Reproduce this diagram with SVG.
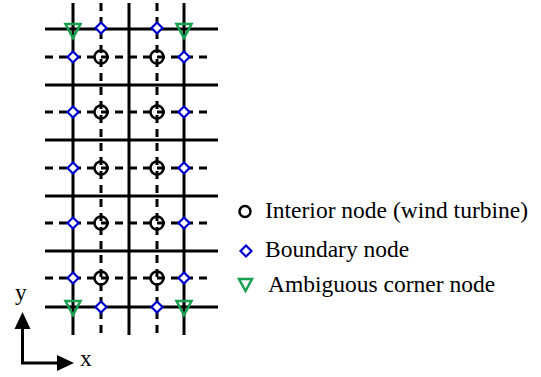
<svg xmlns="http://www.w3.org/2000/svg" width="541" height="377" viewBox="0 0 541 377">
<style>
.g{stroke:#000;stroke-width:3;fill:none}
.d{stroke:#000;stroke-width:3;fill:none;stroke-dasharray:8 6}
.c{stroke:#000;stroke-width:2.5;fill:none}
.b{stroke:#0000cc;stroke-width:2.2;fill:#fff}
.t{stroke:#17a050;stroke-width:2.5;fill:none}
.h{fill:#000;stroke:none}
</style>
<defs>
<path id="dia" d="M0,-5.5 L5.5,0 L0,5.5 L-5.5,0 Z"/>
<path id="tri" d="M-7.5,0 L7.5,0 L0,14 Z"/>
</defs>
<rect width="541" height="377" fill="#fff"/>
<g id="connectors">
<g id="grid-solid">
<line class="g" x1="45" y1="29" x2="218" y2="29"/>
<line class="g" x1="45" y1="85" x2="218" y2="85"/>
<line class="g" x1="45" y1="140" x2="218" y2="140"/>
<line class="g" x1="45" y1="196" x2="218" y2="196"/>
<line class="g" x1="45" y1="251" x2="218" y2="251"/>
<line class="g" x1="45" y1="307" x2="218" y2="307"/>
<line class="g" x1="73" y1="3" x2="73" y2="335"/>
<line class="g" x1="129" y1="3" x2="129" y2="335"/>
<line class="g" x1="184" y1="3" x2="184" y2="335"/>
</g>
<g id="grid-dashed">
<line class="d" x1="45" y1="57" x2="212" y2="57"/>
<line class="d" x1="45" y1="112" x2="212" y2="112"/>
<line class="d" x1="45" y1="168" x2="212" y2="168"/>
<line class="d" x1="45" y1="223" x2="212" y2="223"/>
<line class="d" x1="45" y1="278" x2="212" y2="278"/>
<line class="d" x1="101" y1="3" x2="101" y2="335"/>
<line class="d" x1="157" y1="3" x2="157" y2="335"/>
</g>
<g id="axes">
<path class="g" d="M22.5,364 L22.5,326 M21,363 L60,363"/>
<path class="h" d="M22.5,312 L30.5,329 L14.5,329 Z"/>
<path class="h" d="M74,363 L57,355 L57,371 Z"/>
</g>
</g>
<g id="interior-nodes">
<circle class="c" cx="101" cy="57" r="6.5"/><circle class="c" cx="157" cy="57" r="6.5"/>
<circle class="c" cx="101" cy="112" r="6.5"/><circle class="c" cx="157" cy="112" r="6.5"/>
<circle class="c" cx="101" cy="168" r="6.5"/><circle class="c" cx="157" cy="168" r="6.5"/>
<circle class="c" cx="101" cy="223" r="6.5"/><circle class="c" cx="157" cy="223" r="6.5"/>
<circle class="c" cx="101" cy="278" r="6.5"/><circle class="c" cx="157" cy="278" r="6.5"/>
</g>
<g id="boundary-nodes">
<use href="#dia" class="b" x="101" y="28"/><use href="#dia" class="b" x="157" y="28"/>
<use href="#dia" class="b" x="101" y="307"/><use href="#dia" class="b" x="157" y="307"/>
<use href="#dia" class="b" x="73" y="57"/><use href="#dia" class="b" x="184" y="57"/>
<use href="#dia" class="b" x="73" y="112"/><use href="#dia" class="b" x="184" y="112"/>
<use href="#dia" class="b" x="73" y="168"/><use href="#dia" class="b" x="184" y="168"/>
<use href="#dia" class="b" x="73" y="223"/><use href="#dia" class="b" x="184" y="223"/>
<use href="#dia" class="b" x="73" y="278"/><use href="#dia" class="b" x="184" y="278"/>
</g>
<g id="corner-nodes">
<use href="#tri" class="t" x="73" y="24"/><use href="#tri" class="t" x="184" y="24"/>
<use href="#tri" class="t" x="73" y="301"/><use href="#tri" class="t" x="184" y="301"/>
</g>
<g id="text" font-family="Liberation Serif, serif" font-size="23.5" fill="#000">
<g id="axis-labels">
<text x="15" y="300">y</text>
<text x="80" y="366">x</text>
</g>
<g id="legend">
<circle class="c" cx="245" cy="211.5" r="5.5"/>
<text x="265" y="218">Interior node (wind turbine)</text>
<use href="#dia" class="b" x="246" y="251"/>
<text x="265" y="257">Boundary node</text>
<path class="t" d="M239,279 L252,279 L245.5,291 Z"/>
<text x="268" y="292">Ambiguous corner node</text>
</g>
</g>
</svg>
